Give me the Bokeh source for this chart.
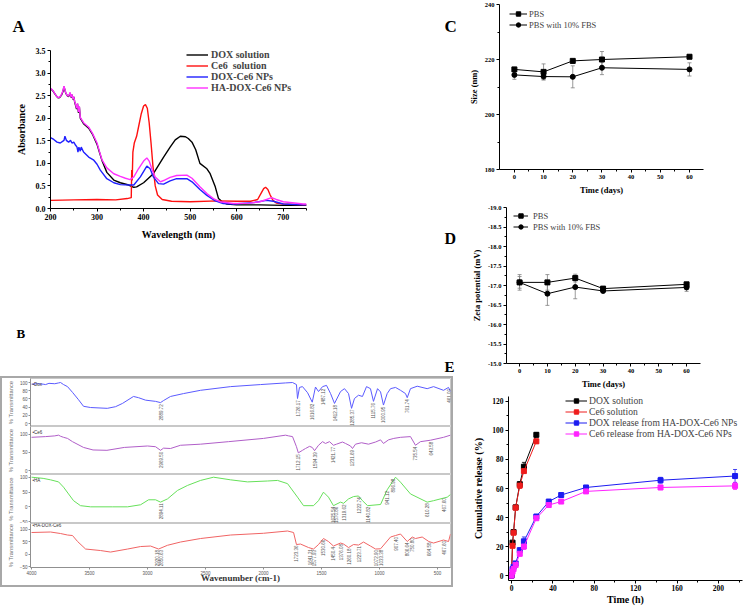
import numpy as np
from bokeh.plotting import figure
from bokeh.models import (Range1d, Legend, LegendItem, Label, Whisker, TeeHead,
                          ColumnDataSource, FixedTicker, NumeralTickFormatter, Column, Row)
from bokeh.core.properties import value
from bokeh.embed import file_html
from bokeh.resources import INLINE

SERIF = "Liberation Serif"
SANS = "Liberation Sans"

# ---------------- Panel A : UV-vis ----------------
dox_wl = [200, 204, 208, 212, 216, 220, 224, 227, 229, 231, 233, 236, 239, 242, 244, 246, 248, 250, 252, 254,
          256, 258, 260, 262, 264, 271, 282, 290, 300, 305, 311, 321, 336, 350, 368, 379, 385, 400, 421, 443,
          457, 468, 479, 490, 496, 504, 512, 521, 536, 543, 554, 561, 570, 579, 600, 650, 700, 750]
dox_abs = [2.65, 2.62, 2.56, 2.5, 2.45, 2.46, 2.52, 2.6, 2.7, 2.62, 2.55, 2.5, 2.48, 2.56, 2.46, 2.52, 2.42, 2.47, 2.36, 2.28,
           2.2, 2.32, 2.12, 2.25, 2.0, 1.88, 1.78, 1.65, 1.42, 1.25, 1.05, 0.8, 0.63, 0.57, 0.52, 0.47, 0.48, 0.57, 0.77, 1.14,
           1.36, 1.52, 1.6, 1.59, 1.55, 1.47, 1.3, 1.0, 0.88, 0.77, 0.48, 0.22, 0.14, 0.1, 0.08, 0.08, 0.07, 0.07]

ce6_wl = [200, 250, 300, 340, 365, 373.5, 374.5, 375.5, 377, 380, 385, 390, 395, 400, 404, 408, 412, 416, 420, 425,
          430, 440, 460, 500, 560, 600, 630, 645, 652, 658, 662, 667, 672, 678, 685, 700, 750]
ce6_abs = [0.18, 0.19, 0.2, 0.19, 0.22, 0.24, 0.85, 0.62, 1.25, 1.45, 1.6, 1.85, 2.1, 2.27, 2.3, 2.22, 1.9, 1.45, 0.95, 0.5,
           0.3, 0.2, 0.16, 0.15, 0.17, 0.16, 0.16, 0.2, 0.33, 0.44, 0.47, 0.42, 0.3, 0.18, 0.12, 0.1, 0.08]

np_wl = [200, 207, 214, 221, 229, 231, 234, 239, 243, 246, 250, 254, 257, 259, 261, 264, 266, 271, 282, 293,
         300, 307, 321, 336, 350, 371, 379, 393, 407, 414, 421, 432, 443, 457, 471, 493, 504, 521, 536, 554,
         571, 593, 636, 664, 679, 700, 743, 750]
np_abs = [1.57, 1.53, 1.47, 1.45, 1.51, 1.6, 1.51, 1.47, 1.51, 1.45, 1.47, 1.4, 1.36, 1.25, 1.36, 1.27, 1.36, 1.25, 1.14, 1.07,
          0.98, 0.85, 0.66, 0.57, 0.53, 0.52, 0.52, 0.7, 0.94, 0.88, 0.7, 0.55, 0.54, 0.61, 0.66, 0.66, 0.59, 0.42, 0.29, 0.17,
          0.11, 0.1, 0.13, 0.18, 0.16, 0.1, 0.08, 0.08]

ha_wl = [200, 204, 208, 212, 216, 220, 224, 227, 229, 231, 233, 236, 239, 242, 244, 246, 248, 250, 252, 254,
         256, 258, 260, 262, 264, 271, 282, 290, 300, 305, 311, 321, 336, 350, 361, 371, 379, 389, 400, 407,
         412, 418, 425, 436, 443, 457, 471, 493, 504, 521, 536, 550, 564, 593, 629, 650, 664, 675, 685, 700,
         743, 750]
ha_abs = [2.66, 2.63, 2.57, 2.5, 2.46, 2.47, 2.53, 2.62, 2.71, 2.63, 2.56, 2.5, 2.49, 2.57, 2.47, 2.53, 2.43, 2.48, 2.37, 2.3,
          2.22, 2.33, 2.14, 2.26, 2.02, 1.9, 1.8, 1.67, 1.45, 1.27, 1.07, 0.9, 0.77, 0.71, 0.67, 0.64, 0.7, 0.88, 1.05, 1.12,
          1.05, 0.87, 0.7, 0.59, 0.62, 0.69, 0.73, 0.74, 0.67, 0.48, 0.33, 0.22, 0.15, 0.11, 0.12, 0.15, 0.2, 0.24, 0.2, 0.15,
          0.1, 0.1]

a_names = ["DOX solution", "Ce6  solution", "DOX-Ce6 NPs", "HA-DOX-Ce6 NPs"]
a_colors = ["#000000", "#ff1010", "#2020ff", "#ff30ff"]

# ---------------- Panel B : FTIR ----------------
dox_wn = [4000, 3950, 3900, 3879, 3850, 3800, 3767, 3750, 3724, 3690, 3647, 3595, 3552, 3491, 3347, 3276, 3216, 3121, 3078, 3017,
          2931, 2888, 2862, 2802, 2690, 2543, 2284, 2026, 1810, 1750, 1716, 1707, 1690, 1664, 1620, 1580, 1552, 1526, 1491, 1457,
          1422, 1388, 1336, 1302, 1267, 1241, 1216, 1181, 1147, 1112, 1078, 1052, 1017, 991, 966, 934, 905, 862, 819, 776,
          761, 733, 675, 589, 534, 448, 405, 388]
dox_tr = [96, 97, 96, 95, 98, 97, 99, 100, 95, 90, 76, 58, 42, 39, 37, 41, 49, 66, 63, 57,
          54, 51, 56, 66, 73, 81, 90, 95, 99, 100, 95, 61, 88, 90, 75, 52, 89, 78, 90, 93,
          73, 49, 78, 85, 73, 37, 61, 69, 66, 90, 85, 54, 85, 77, 45, 73, 85, 88, 81, 73,
          63, 85, 91, 85, 90, 81, 88, 78]

ce6_wn = [4000, 3879, 3800, 3767, 3750, 3724, 3690, 3647, 3552, 3470, 3350, 3200, 3000, 2931, 2888, 2862, 2802, 2716, 2543, 2302,
          2000, 1810, 1784, 1750, 1716, 1700, 1664, 1638, 1603, 1580, 1560, 1526, 1491, 1466, 1431, 1397, 1371, 1319, 1293, 1250,
          1233, 1207, 1155, 1095, 1034, 991, 966, 922, 877, 819, 733, 690, 647, 560, 448, 388]
ce6_tr = [92, 94, 96, 98, 95, 92, 89, 80, 64, 57, 56, 64, 68, 66, 56, 62, 61, 70, 73, 80,
          89, 98, 96, 94, 66, 49, 56, 61, 67, 64, 55, 70, 80, 75, 80, 70, 73, 79, 75, 68,
          61, 73, 77, 73, 79, 85, 75, 85, 89, 92, 94, 70, 80, 84, 92, 98]

ha_wn = [4000, 3900, 3836, 3767, 3724, 3681, 3638, 3578, 3491, 3300, 3172, 3060, 2991, 2931, 2888, 2828, 2741, 2655, 2543, 2431,
         2284, 2138, 1966, 1879, 1793, 1707, 1655, 1569, 1526, 1483, 1440, 1397, 1336, 1310, 1267, 1224, 1181, 1147, 1103, 991,
         934, 862, 819, 733, 589, 534, 416, 388]
ha_tr = [101, 97, 92, 85, 67, 44, 21, 4, 0, 0, 0, 7, 24, 24, 16, 27, 56, 73, 90, 101,
         92, 85, 88, 90, 79, 33, 4, 4, 21, 50, 33, 4, 16, 12, 27, 35, 37, 21, 4, 8,
         58, 101, 84, 44, 16, 21, 33, 42]

hadc_wn = [4000, 3836, 3750, 3690, 3647, 3603, 3534, 3405, 3319, 3172, 3060, 2974, 2905, 2828, 2716, 2543, 2284, 2000, 1793, 1741,
           1716, 1681, 1612, 1569, 1526, 1483, 1440, 1397, 1336, 1310, 1267, 1224, 1181, 1138, 1078, 1034, 991, 905, 862, 819,
           761, 718, 690, 632, 575, 534, 448, 405, 388]
hadc_tr = [86, 88, 82, 76, 74, 50, 20, 14, 8, 20, 30, 32, 20, 35, 48, 62, 76, 83, 92, 86,
           38, 40, 26, 20, 38, 62, 50, 32, 44, 40, 26, 38, 36, 48, 32, 20, 21, 68, 74, 80,
           50, 68, 62, 68, 50, 44, 56, 50, 80]

pk1_wn = [2888, 1707, 1580, 1491, 1388, 1241, 1052, 966, 761, 405]
pk1_txt = ["2889.72", "1726.17", "1616.82", "1487.12", "1412.18", "1285.37", "1115.76", "1000.95", "761.74", "461.00"]
pk1_y = [47, 57, 48, 85, 45, 34, 50, 41, 59, 84]

pk2_wn = [2888, 1700, 1560, 1397, 1233, 690, 560]
pk2_txt = ["2969.50", "1712.15", "1594.39", "1421.77", "1231.69", "735.54", "643.58"]
pk2_y = [52, 45, 51, 66, 57, 66, 80]

pk3_wn = [2888, 1405, 1375, 1310, 1181, 1103, 934, 880, 589, 448]
pk3_txt = ["2894.11", "1625.54", "1570.86", "1319.62", "1222.74", "1140.82", "941.12", "896.98", "610.28", "467.60"]
pk3_y = [12, 0, 0, 8, 33, 0, 54, 96, 12, 29]

pk4_wn = [2915, 2885, 1716, 1600, 1569, 1483, 1397, 1336, 1267, 1181, 1034, 991, 862, 761, 718, 575, 448]
pk4_txt = ["2920.18", "2850.63", "1723.36", "1641.21", "1577.93", "1530.66", "1450.4", "1376.08", "1260.18",
           "1223.71", "1072.90", "1033.38", "907.40", "806.64", "750.80", "664.58", "467.60"]
pk4_y = [16, 16, 34, 20, 16, 57, 28, 40, 22, 32, 16, 17, 68, 46, 63, 46, 52]

b_tags = ["\u2022Dox", "\u2022Ce6", "\u2022HA", "\u2022HA-DOX-Ce6"]
b_colors = ["#5a5aff", "#b05ec8", "#66e05a", "#f06464"]
b_xticks = [4000, 3500, 3000, 2500, 2000, 1500, 1000, 500]

# ---------------- Panel C / D : stability ----------------
days = [0, 10, 20, 30, 60]
pbs_size = [216.4, 215.5, 219.5, 220.0, 221.0]
pbs_size_err = [0.6, 2.9, 0.5, 2.9, 0.6]
fbs_size = [214.4, 213.8, 213.7, 217.0, 216.4]
fbs_size_err = [1.6, 1.2, 4.0, 2.5, 2.4]

pbs_zeta = [-17.08, -17.08, -17.19, -16.92, -17.03]
pbs_zeta_err = [0.2, 0.2, 0.1, 0.04, 0.04]
fbs_zeta = [-17.08, -16.79, -16.96, -16.86, -16.95]
fbs_zeta_err = [0.15, 0.3, 0.3, 0.04, 0.1]
cd_names = ["PBS", "PBS with 10% FBS"]

# ---------------- Panel E : release ----------------
t_sol = [0, 1, 2, 4, 8, 12, 24]
dox_sol = [0, 22.7, 30, 47, 63, 75, 97]
dox_sol_err = [0, 1, 1, 1, 1.5, 3, 1.5]
ce6_sol = [0, 20.5, 29.5, 46.8, 62, 72, 92.5]
ce6_sol_err = [0, 1, 1, 1, 2, 1.5, 1.5]
t_np = [0, 1, 2, 4, 8, 12, 24, 36, 48, 72, 144, 216]
dox_np = [0, 4.5, 6, 8.4, 17.5, 23.6, 40.7, 51, 55.5, 60.7, 65.7, 68.6]
dox_np_err = [0, 1, 1, 1, 1.5, 3, 1, 1, 1, 1, 2, 4.5]
ce6_np = [0, 2.7, 4.5, 7.3, 15, 20, 39.5, 48.6, 51, 58, 60.7, 61.8]
ce6_np_err = [0, 1, 1, 1, 1.5, 2, 1, 1.5, 1, 1, 1.5, 2.5]
e_names = ["DOX solution", "Ce6 solution", "DOX release from HA-DOX-Ce6 NPs", "Ce6 release from HA-DOX-Ce6 NPs"]
e_colors = ["#000000", "#ee1c1c", "#1c1cf0", "#ff22ff"]


def style_axes(p, tick_size, label_size, label_standoff=3):
    for ax in p.axis:
        ax.axis_line_color = "black"
        ax.major_tick_line_color = "black"
        ax.minor_tick_line_color = "black"
        ax.major_tick_in = 0
        ax.major_tick_out = 3
        ax.minor_tick_in = 0
        ax.minor_tick_out = 2
        ax.major_label_text_font = SERIF
        ax.major_label_text_font_style = "bold"
        ax.major_label_text_font_size = tick_size
        ax.major_label_text_color = "black"
        ax.major_label_standoff = 2
        ax.axis_label_text_font = SERIF
        ax.axis_label_text_font_style = "bold"
        ax.axis_label_text_font_size = label_size
        ax.axis_label_text_color = "black"
        ax.axis_label_standoff = label_standoff
    p.grid.visible = False
    p.outline_line_color = None


def make_legend(items, loc, font_size, glyph_w, row_h, standoff, bold):
    return Legend(items=items, location=loc, orientation="vertical", padding=0, margin=0, spacing=0,
                  glyph_width=glyph_w, glyph_height=row_h, label_height=row_h, label_standoff=standoff,
                  label_text_font=SERIF, label_text_font_size=font_size,
                  label_text_font_style="bold" if bold else "normal",
                  border_line_color=None, background_fill_alpha=0)


# ======== Figure A (also hosts the panel letters) ========
A_W, A_H = 462, 376
A_X0, A_X1, A_Y0, A_Y1 = 200, 750, 0, 3.5
A_FL, A_FR, A_FT, A_FB = 50, 306, 50, 208          # frame edges, px
pA = figure(width=A_W, height=A_H, x_range=Range1d(A_X0, A_X1), y_range=Range1d(A_Y0, A_Y1),
            output_backend="svg", toolbar_location=None,
            min_border_left=A_FL, min_border_right=A_W - A_FR, min_border_top=A_FT, min_border_bottom=A_H - A_FB)
a_items = []
for wl, ab, nm, col in zip([dox_wl, ce6_wl, np_wl, ha_wl], [dox_abs, ce6_abs, np_abs, ha_abs], a_names, a_colors):
    r = pA.line(wl, ab, line_color=col, line_width=1.4)
    a_items.append(LegendItem(label=nm, renderers=[r]))
pA.xaxis.ticker = FixedTicker(ticks=[200, 300, 400, 500, 600, 700], minor_ticks=[250, 350, 450, 550, 650, 750])
pA.yaxis.ticker = FixedTicker(ticks=[0, 0.5, 1, 1.5, 2, 2.5, 3, 3.5],
                              minor_ticks=[0.25, 0.75, 1.25, 1.75, 2.25, 2.75, 3.25])
pA.yaxis.formatter = NumeralTickFormatter(format="0.0")
pA.xaxis.axis_label = "Wavelength (nm)"
pA.yaxis.axis_label = "Absorbance"
style_axes(pA, "8px", "10px", 6)
pA.add_layout(make_legend(a_items, (136, 115), "10px", 22, 11, 3, True))


def px_to_a(px, py):
    sx = (A_X1 - A_X0) / (A_FR - A_FL)
    sy = (A_Y1 - A_Y0) / (A_FB - A_FT)
    return A_X0 + (px - A_FL) * sx, A_Y0 + (A_FB - py) * sy


def letter(txt, px, py, size, side):
    x, y = px_to_a(px, py)
    pA.add_layout(Label(x=x, y=y, text=txt, text_font=SERIF, text_font_style="bold", text_font_size=size,
                        text_baseline="alphabetic", text_color="black"), side)


letter("A", 12, 26, "17px", "above")
letter("C", 444, 26, "17px", "above")
letter("D", 444, 238, "16px", "below")
letter("B", 16, 333, "13px", "below")
letter("E", 444, 366, "15px", "below")

# ======== Figure B (FTIR, four stacked sub-plots) ========
xr_b = Range1d(4009, 388)


def ftir_sub(wn, tr, color, yr, yticks, tag, pk_wn, pk_txt, pk_y, h, bottom, show_x):
    p = figure(width=449, height=h, x_range=xr_b, y_range=Range1d(*yr),
               output_backend="svg", toolbar_location=None,
               x_axis_location="below" if show_x else None,
               min_border_left=28, min_border_right=1, min_border_top=0, min_border_bottom=bottom)
    p.line(wn, tr, line_color=color, line_width=1)
    p.text(x=pk_wn, y=pk_y, text=pk_txt, angle=np.pi / 2, text_font=value(SANS), text_font_size="4.5px",
           text_color="#555555", text_align="right", text_baseline="middle")
    p.grid.visible = False
    p.outline_line_color = "#c8c8c8"
    for ax in p.axis:
        ax.axis_line_color = "#909090"
        ax.major_tick_line_color = "#909090"
        ax.minor_tick_line_color = None
        ax.major_tick_in = 0
        ax.major_tick_out = 2
        ax.major_label_text_font = SANS
        ax.major_label_text_font_size = "4.5px"
        ax.major_label_text_color = "#555555"
        ax.major_label_standoff = 1
    p.yaxis.ticker = FixedTicker(ticks=yticks)
    p.yaxis.axis_label = "% Transmittance"
    p.yaxis.axis_label_text_font = SANS
    p.yaxis.axis_label_text_font_style = "normal"
    p.yaxis.axis_label_text_font_size = "5.8px"
    p.yaxis.axis_label_text_color = "#707070"
    p.yaxis.axis_label_standoff = 3
    if show_x:
        p.xaxis.ticker = FixedTicker(ticks=b_xticks)
        p.xaxis.axis_label = "Wavenumber (cm-1)"
        p.xaxis.axis_label_text_font = SERIF
        p.xaxis.axis_label_text_font_style = "bold"
        p.xaxis.axis_label_text_font_size = "9px"
        p.xaxis.axis_label_text_color = "#333333"
        p.xaxis.axis_label_standoff = -5
    p.add_layout(Label(x=2, y=h - bottom - 8, x_units="screen", y_units="screen", text=tag,
                       text_font=SANS, text_font_size="4.5px", text_color="#333333"))
    return p


s1 = ftir_sub(dox_wn, dox_tr, b_colors[0], (-7.3, 109.8), [0, 20, 40, 60, 80, 100], b_tags[0],
              pk1_wn, pk1_txt, pk1_y, 48, 0, False)
s2 = ftir_sub(ce6_wn, ce6_tr, b_colors[1], (-11, 122), [0, 50, 100], b_tags[1],
              pk2_wn, pk2_txt, pk2_y, 48, 0, False)
s3 = ftir_sub(ha_wn, ha_tr, b_colors[2], (-56.8, 110.2), [-50, 0, 50, 100], b_tags[2],
              pk3_wn, pk3_txt, pk3_y, 49, 0, False)
s4 = ftir_sub(hadc_wn, hadc_tr, b_colors[3], (-53.7, 122), [-50, 0, 50, 100], b_tags[3],
              pk4_wn, pk4_txt, pk4_y, 62, 14, True)
bbox = Column(children=[s1, s2, s3, s4], styles={"border": "2px solid #a8a8a8"})


# ======== Figure C / D ========
def stability(yvals_a, err_a, yvals_b, err_b, xr, yr, yticks, yminor, ylabel, h, mb_left, mb_right, mb_top, mb_bottom,
              leg_loc, leg_gw, leg_st, fmt):
    p = figure(width=288, height=h, x_range=xr, y_range=yr,
               output_backend="svg", toolbar_location=None,
               min_border_left=mb_left, min_border_right=mb_right, min_border_top=mb_top, min_border_bottom=mb_bottom)
    items = []
    for yv, er, mk, nm in zip([yvals_a, yvals_b], [err_a, err_b], ["square", "circle"], cd_names):
        src = ColumnDataSource(dict(x=days, y=yv, lo=[v - e for v, e in zip(yv, er)],
                                    hi=[v + e for v, e in zip(yv, er)]))
        p.add_layout(Whisker(source=src, base="x", upper="hi", lower="lo", line_color="#808080", line_width=0.8,
                             upper_head=TeeHead(size=4, line_color="#808080", line_width=0.8),
                             lower_head=TeeHead(size=4, line_color="#808080", line_width=0.8)))
        rl = p.line("x", "y", source=src, line_color="black", line_width=1)
        rs = p.scatter("x", "y", source=src, marker=mk, size=5, fill_color="black", line_color="black")
        items.append(LegendItem(label=nm, renderers=[rl, rs]))
    p.xaxis.ticker = FixedTicker(ticks=[0, 10, 20, 30, 40, 50, 60], minor_ticks=[5, 15, 25, 35, 45, 55])
    p.yaxis.ticker = FixedTicker(ticks=yticks, minor_ticks=yminor)
    if fmt:
        p.yaxis.formatter = NumeralTickFormatter(format=fmt)
    p.xaxis.axis_label = "Time (days)"
    p.yaxis.axis_label = ylabel
    style_axes(p, "6.5px", "8.5px", 3)
    p.add_layout(make_legend(items, leg_loc, "8.5px", leg_gw, 11, leg_st, False))
    return p


pC = stability(pbs_size, pbs_size_err, fbs_size, fbs_size_err, Range1d(-5.1, 64.8), Range1d(180, 240),
               [180, 200, 220, 240], [190, 210, 230], "Size (nm)", 197, 37, 47, 4, 28, (10, 139), 18, 2, None)
pD = stability(pbs_zeta, pbs_zeta_err, fbs_zeta, fbs_zeta_err, Range1d(-4.7, 65.0), Range1d(-15, -19),
               [-19, -18.5, -18, -17.5, -17, -16.5, -16, -15.5, -15],
               [-18.75, -18.25, -17.75, -17.25, -16.75, -16.25, -15.75, -15.25],
               "Zeta potential (mV)", 195, 44, 50, 10, 29, (7, 131), 15, 5, "0.0")

# ======== Figure E ========
pE = figure(width=288, height=215, x_range=Range1d(-2.9, 223.2), y_range=Range1d(-3.4, 123.4),
            output_backend="svg", toolbar_location=None,
            min_border_left=46, min_border_right=8, min_border_top=4, min_border_bottom=25)
e_items = []
for tx, yv, er, nm, col in zip([t_sol, t_sol, t_np, t_np], [dox_sol, ce6_sol, dox_np, ce6_np],
                               [dox_sol_err, ce6_sol_err, dox_np_err, ce6_np_err], e_names, e_colors):
    src = ColumnDataSource(dict(x=tx, y=yv, lo=[v - e for v, e in zip(yv, er)],
                                hi=[v + e for v, e in zip(yv, er)]))
    pE.add_layout(Whisker(source=src, base="x", upper="hi", lower="lo", line_color=col, line_width=0.8,
                          upper_head=TeeHead(size=4, line_color=col, line_width=0.8),
                          lower_head=TeeHead(size=4, line_color=col, line_width=0.8)))
    rl = pE.line("x", "y", source=src, line_color=col, line_width=1)
    rs = pE.scatter("x", "y", source=src, marker="square", size=5, fill_color=col, line_color=col)
    e_items.append(LegendItem(label=nm, renderers=[rl, rs]))
pE.xaxis.ticker = FixedTicker(ticks=[0, 40, 80, 120, 160, 200], minor_ticks=[20, 60, 100, 140, 180, 220])
pE.yaxis.ticker = FixedTicker(ticks=[0, 20, 40, 60, 80, 100, 120], minor_ticks=[10, 30, 50, 70, 90, 110])
pE.xaxis.axis_label = "Time (h)"
pE.yaxis.axis_label = "Cumulative release (%)"
style_axes(pE, "7.5px", "10px", 5)
pE.xaxis.axis_label_standoff = 0
pE.xaxis.major_label_standoff = 1
pE.add_layout(make_legend(e_items, (57, 141), "9.6px", 22, 11, 2, False))

left = Column(children=[pA, bbox])
right = Column(children=[Column(children=[pC]), Column(children=[pD]), Column(children=[pE])])
layout = Row(children=[left, right])

open("out.html", "w").write(file_html(layout, INLINE))
